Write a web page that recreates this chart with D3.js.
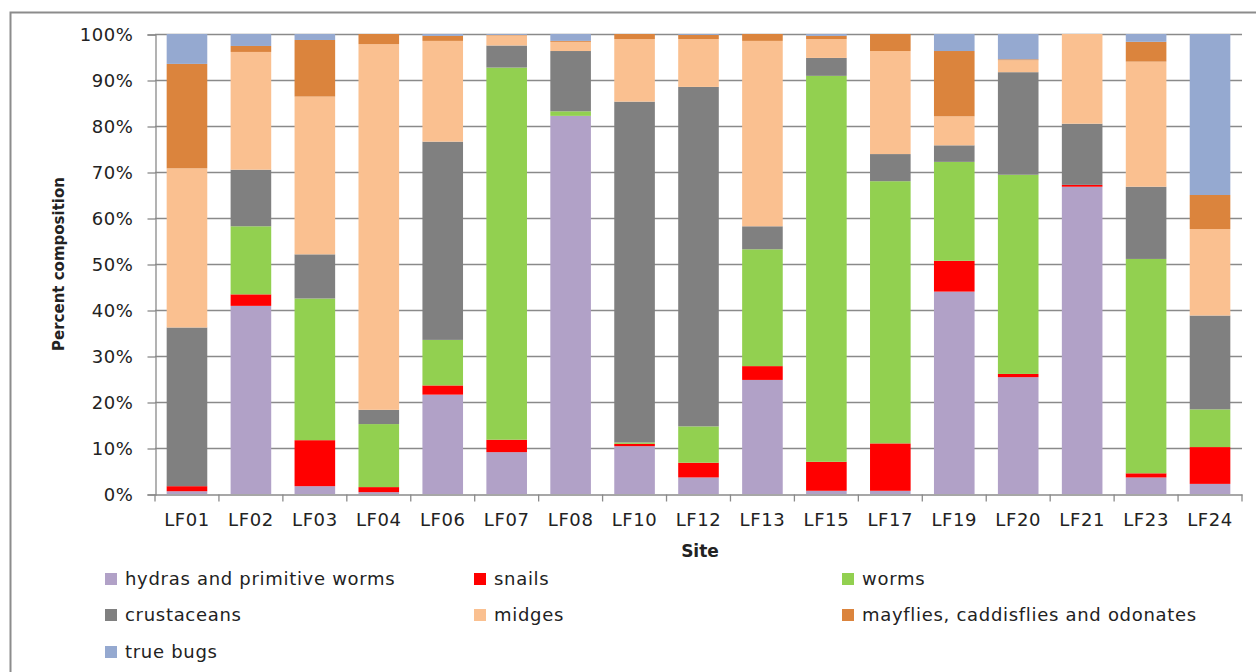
<!DOCTYPE html>
<html><head><meta charset="utf-8">
<script src="https://cdn.jsdelivr.net/npm/d3@7"></script>
<style>
html,body{margin:0;padding:0;background:#fff;overflow:hidden;}
text{font-family:"DejaVu Sans",sans-serif;fill:#222;}
</style></head>
<body>
<svg id="chart" width="1256" height="672"></svg>
<script>
const sites = ["LF01","LF02","LF03","LF04","LF06","LF07","LF08","LF10","LF12","LF13","LF15","LF17","LF19","LF20","LF21","LF23","LF24"];
const hydras      = [0.6,40.9,1.7,0.4,21.6,9.1,82.2,10.4,3.6,24.8,0.7,0.7,44.0,25.4,66.8,3.6,2.2];
const snails      = [1.1,2.5,10.0,1.1,2.0,2.7,0,0.5,3.2,3.0,6.3,10.3,6.7,0.7,0.4,0.9,8.0];
const worms       = [0,14.8,30.8,13.7,9.9,80.9,1.0,0.3,7.9,25.4,83.9,57.0,21.5,43.3,0,46.6,8.2];
const crustaceans = [34.5,12.3,9.6,3.1,43.1,4.8,13.1,74.1,73.8,5.0,3.9,5.9,3.6,22.3,13.3,15.7,20.4];
const midges      = [34.6,25.6,34.3,79.5,21.9,2.2,2.0,13.6,10.4,40.3,4.1,22.4,6.3,2.6,19.5,27.2,18.8];
const mayflies    = [22.7,1.3,12.3,2.2,1.1,0.1,0.2,1.1,0.9,1.5,0.7,3.7,14.2,0.2,0,4.3,7.4];
const trueBugs    = [6.5,2.6,1.3,0,0.4,0.2,1.5,0,0.2,0,0.4,0,3.7,5.5,0,1.7,35.0];
const seriesNames = ["hydras and primitive worms","snails","worms","crustaceans","midges","mayflies, caddisflies and odonates","true bugs"];
const seriesColors = ["#b1a1c7","#ff0000","#92d050","#808080","#fac090","#db843d","#95a9d0"];
const yTickLabels = ["0%","10%","20%","30%","40%","50%","60%","70%","80%","90%","100%"];

const seriesData = [hydras,snails,worms,crustaceans,midges,mayflies,trueBugs];
const table = sites.map((s,i)=>{const o={site:s}; seriesNames.forEach((n,k)=>o[n]=seriesData[k][i]); return o;});

const svg = d3.select("#chart");
const M = {left:155, top:34, right:1242, bottom:494};

// outer frame
svg.append("rect").attr("x",10.5).attr("y",12.5).attr("width",1270).attr("height",700)
  .attr("fill","none").attr("stroke","#8c8c8c").attr("stroke-width",2);

const x = d3.scaleBand().domain(sites).range([M.left,M.right]).paddingInner(0.365).paddingOuter(0.1825);
const y = d3.scaleLinear().domain([0,1]).range([M.bottom,M.top]);

// gridlines
svg.append("g").selectAll("line").data(d3.range(1,11).map(v=>v/10)).join("line")
  .attr("x1",M.left).attr("x2",M.right)
  .attr("y1",d=>Math.round(y(d))+0.5).attr("y2",d=>Math.round(y(d))+0.5)
  .attr("stroke","#8a8a8a").attr("stroke-width",1.3);

const stack = d3.stack().keys(seriesNames).offset(d3.stackOffsetExpand);
const layers = stack(table);
svg.append("g").selectAll("g").data(layers).join("g")
  .attr("fill",(d,i)=>seriesColors[i])
  .selectAll("rect").data(d=>d).join("rect")
  .attr("x",d=>x(d.data.site)).attr("width",x.bandwidth())
  .attr("y",d=>y(d[1])).attr("height",d=>Math.max(0,y(d[0])-y(d[1])));

// y axis
const yAxis = d3.axisLeft(y).tickValues(d3.range(0,11).map(v=>v/10))
  .tickFormat((d,i)=>yTickLabels[i]).tickSize(8).tickPadding(14);
const gy = svg.append("g").attr("transform",`translate(${M.left+0.5},0.5)`).call(yAxis);
gy.select(".domain").attr("stroke","#8a8a8a").attr("stroke-width",1.3);
gy.selectAll(".tick line").attr("stroke","#8a8a8a").attr("stroke-width",1.3);
gy.selectAll(".tick text").attr("font-size",18).attr("letter-spacing","0.6px").attr("font-family","DejaVu Sans").attr("fill","#222");

// x axis
const xAxis = d3.axisBottom(x).tickSize(0).tickPadding(19);
const gx = svg.append("g").attr("transform",`translate(0,${M.bottom+0.5})`).call(xAxis);
gx.select(".domain").attr("stroke","#8a8a8a").attr("stroke-width",1.3);
gx.selectAll(".tick text").attr("font-size",18).attr("letter-spacing","0.6px").attr("font-family","DejaVu Sans").attr("fill","#222");
gx.append("g").selectAll("line").data(d3.range(0,sites.length+1)).join("line")
  .attr("x1",d=>M.left+d*(M.right-M.left)/sites.length).attr("x2",d=>M.left+d*(M.right-M.left)/sites.length)
  .attr("y1",0).attr("y2",7).attr("stroke","#8a8a8a").attr("stroke-width",1.3);

// axis titles
svg.append("text").attr("x",700).attr("y",557).attr("text-anchor","middle")
  .attr("font-weight","bold").attr("font-size",17).text("Site");
svg.append("text").attr("transform","translate(64,264) rotate(-90)").attr("text-anchor","middle")
  .attr("font-weight","bold").attr("font-size",15).text("Percent composition");

// legend
const legPos = [[105,579],[474,579],[842,579],[105,615],[474,615],[842,615],[105,652]];
const lg = svg.append("g").selectAll("g").data(seriesNames).join("g")
  .attr("transform",(d,i)=>`translate(${legPos[i][0]},${legPos[i][1]})`);
lg.append("rect").attr("x",0).attr("y",-6).attr("width",12).attr("height",12).attr("fill",(d,i)=>seriesColors[i]);
lg.append("text").attr("x",20).attr("y",0).attr("dy","0.35em").attr("font-size",18).attr("letter-spacing","0.7px").text(d=>d);
</script>
</body></html>
